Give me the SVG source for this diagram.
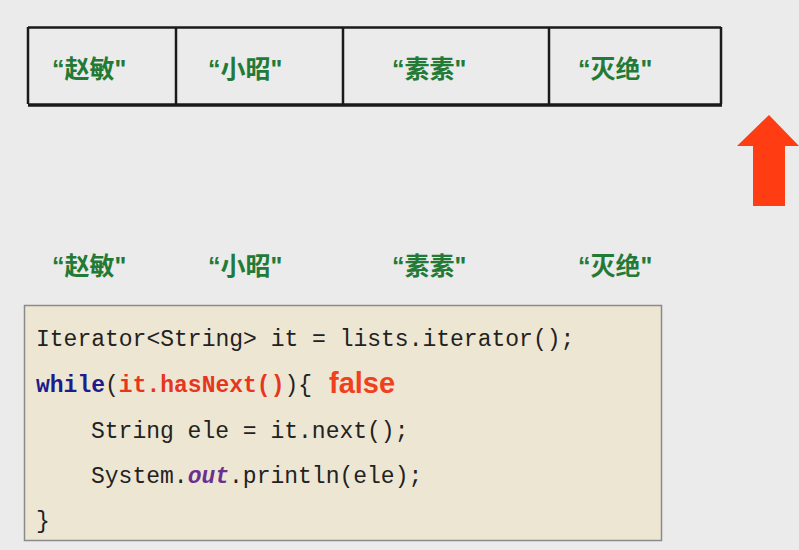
<svg xmlns="http://www.w3.org/2000/svg" width="799" height="550" viewBox="0 0 799 550">
<style>
.bg{fill:#ebebeb}
.cell{stroke:#1a1a1a;stroke-width:2.5;fill:none}
.name{font-family:"Liberation Sans","Noto Sans CJK SC",sans-serif;font-size:25px;font-weight:bold;fill:#237a36}
.code{font-family:"Liberation Mono","DejaVu Sans Mono",monospace;font-size:23px;fill:#222}
.kw{fill:#1c1c8c;font-weight:bold}
.red{fill:#e8361e;font-weight:bold}
.out{fill:#6b2f8f;font-style:italic;font-weight:bold}
.false{font-family:"Liberation Sans",sans-serif;font-size:29px;font-weight:bold;fill:#f0401c}
</style>
<rect class="bg" x="0" y="0" width="799" height="550"/>
<g id="array">
<line class="cell" x1="28" y1="27.5" x2="721" y2="27.5"/>
<line class="cell" x1="28" y1="27" x2="28" y2="104"/>
<line class="cell" x1="176" y1="27" x2="176" y2="104"/>
<line class="cell" x1="343" y1="27" x2="343" y2="104"/>
<line class="cell" x1="549" y1="27" x2="549" y2="104"/>
<line class="cell" x1="721" y1="27" x2="721" y2="104"/>
<line x1="28" y1="105" x2="722" y2="105" stroke="#1a1a1a" stroke-width="3.5"/>
</g>
<g id="cells">
<text class="name" x="52" y="78">“赵敏"</text>
<text class="name" x="208" y="78">“小昭"</text>
<text class="name" x="392" y="78">“素素"</text>
<text class="name" x="578" y="78">“灭绝"</text>
</g>
<g id="arrow">
<polygon points="769,115 799,146 785,146 785,206 753,206 753,146 737,146" fill="#ff3c12"/>
</g>
<g id="elements">
<text class="name" x="52" y="275">“赵敏"</text>
<text class="name" x="208" y="275">“小昭"</text>
<text class="name" x="392" y="275">“素素"</text>
<text class="name" x="578" y="275">“灭绝"</text>
</g>
<g id="code">
<rect x="24.5" y="305.5" width="637" height="235" fill="#ede6d3" stroke="#8a8a8a" stroke-width="1.5"/>
<text class="code" x="36" y="346" xml:space="preserve">Iterator&lt;String&gt; it = lists.iterator();</text>
<text class="code" x="36" y="392"><tspan class="kw">while</tspan>(<tspan class="red">it.hasNext()</tspan>){</text>
<text class="false" x="329" y="393">false</text>
<text class="code" x="91" y="438">String ele = it.next();</text>
<text class="code" x="91" y="483">System.<tspan class="out">out</tspan>.println(ele);</text>
<text class="code" x="36" y="528">}</text>
</g>
</svg>
